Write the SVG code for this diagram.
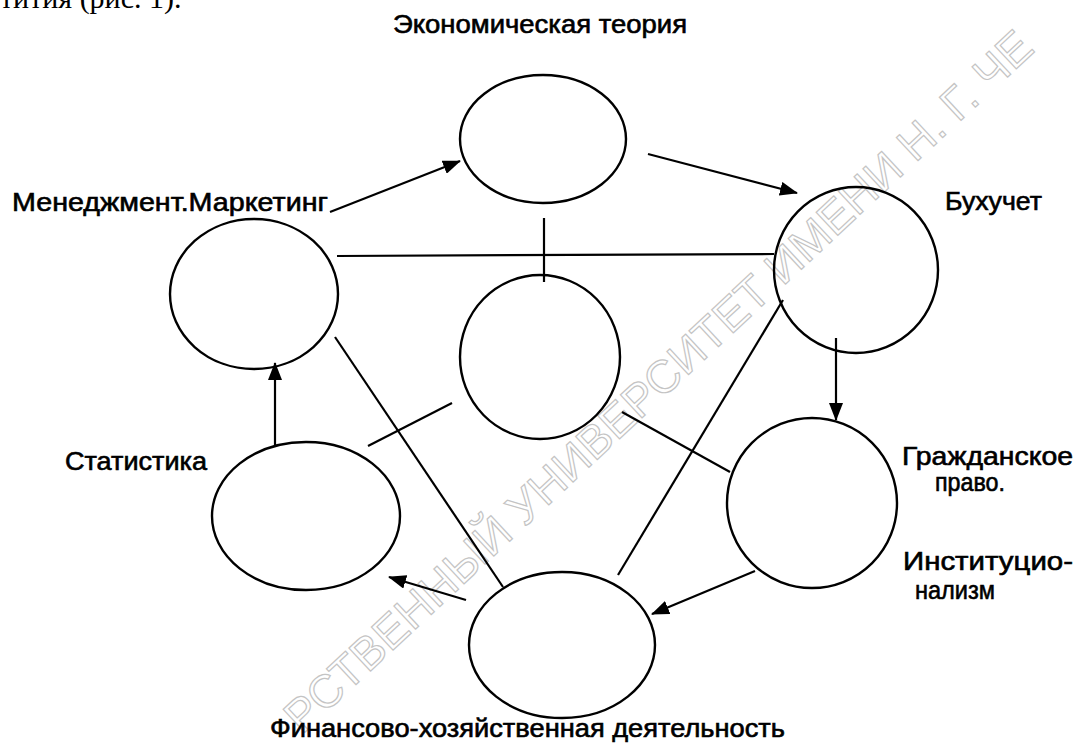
<svg xmlns="http://www.w3.org/2000/svg" width="1075" height="751" viewBox="0 0 1075 751">
<style>
  .n { fill: none; stroke: #000; stroke-width: 2.4; }
  .c { fill: none; stroke: #000; stroke-width: 2.2; }
  .t { font-family: "Liberation Sans", Arial, sans-serif; font-size: 25px; fill: #000; stroke: #000; stroke-width: 0.6; }
  .wm { font-family: "Liberation Sans", Arial, sans-serif; font-size: 46px; fill: none; stroke: #c4c4c4; stroke-width: 1.2; }
</style>
<defs>
  <marker id="ah" viewBox="0 0 18 14" refX="17" refY="7" markerWidth="18" markerHeight="14" markerUnits="userSpaceOnUse" orient="auto">
    <path d="M0,0 L18,7 L0,14 z" fill="#000"/>
  </marker>
</defs>
<rect width="1075" height="751" fill="#fff"/>

<text x="0" y="8" style="font-family:'Liberation Serif','Times New Roman',serif;font-size:30px;fill:#000">тития  (рис. 1).</text>

<text class="wm" transform="translate(302,735) rotate(-43)">РСТВЕННЫЙ УНИВЕРСИТЕТ ИМЕНИ Н. Г. ЧЕ</text>

<g id="connectors">
  <line class="c" x1="330" y1="212" x2="460" y2="161" marker-end="url(#ah)"/>
  <line class="c" x1="648" y1="154" x2="797" y2="193" marker-end="url(#ah)"/>
  <line class="c" x1="337" y1="256" x2="774" y2="254"/>
  <line class="c" x1="544" y1="218" x2="544" y2="282"/>
  <line class="c" x1="836" y1="338" x2="836" y2="420" marker-end="url(#ah)"/>
  <line class="c" x1="755" y1="571" x2="652" y2="614" marker-end="url(#ah)"/>
  <line class="c" x1="466" y1="600" x2="389" y2="577" marker-end="url(#ah)"/>
  <line class="c" x1="275" y1="445" x2="275" y2="363" marker-end="url(#ah)"/>
  <line class="c" x1="335" y1="337" x2="503" y2="587"/>
  <line class="c" x1="368" y1="446" x2="452" y2="403"/>
  <line class="c" x1="622" y1="412" x2="730" y2="472"/>
  <line class="c" x1="783" y1="300" x2="618" y2="575"/>
</g>

<g id="node-economic-theory">
  <ellipse class="n" cx="543" cy="139" rx="83" ry="64"/>
  <text class="t" x="393" y="33" textLength="294" lengthAdjust="spacingAndGlyphs">Экономическая теория</text>
</g>
<g id="node-center">
  <ellipse class="n" cx="540" cy="357" rx="80" ry="82"/>
</g>
<g id="node-management">
  <ellipse class="n" cx="254" cy="294" rx="84" ry="75"/>
  <text class="t" x="12" y="211" textLength="316" lengthAdjust="spacingAndGlyphs">Менеджмент.Маркетинг</text>
</g>
<g id="node-accounting">
  <ellipse class="n" cx="856" cy="270" rx="82" ry="83"/>
  <text class="t" x="945" y="210" textLength="97" lengthAdjust="spacingAndGlyphs">Бухучет</text>
</g>
<g id="node-civil-law">
  <ellipse class="n" cx="812" cy="503" rx="85" ry="85"/>
  <text class="t" x="902" y="465" textLength="171" lengthAdjust="spacingAndGlyphs">Гражданское</text>
  <text class="t" x="935" y="491" textLength="70" lengthAdjust="spacingAndGlyphs">право.</text>
  <text class="t" x="903" y="570" textLength="170" lengthAdjust="spacingAndGlyphs">Институцио-</text>
  <text class="t" x="915" y="599" textLength="80" lengthAdjust="spacingAndGlyphs">нализм</text>
</g>
<g id="node-statistics">
  <ellipse class="n" cx="306" cy="516" rx="94" ry="74"/>
  <text class="t" x="65" y="470" textLength="142" lengthAdjust="spacingAndGlyphs">Статистика</text>
</g>
<g id="node-finance">
  <ellipse class="n" cx="562" cy="645" rx="93" ry="73"/>
  <text class="t" x="270" y="737" textLength="515" lengthAdjust="spacingAndGlyphs">Финансово-хозяйственная деятельность</text>
</g>
</svg>
